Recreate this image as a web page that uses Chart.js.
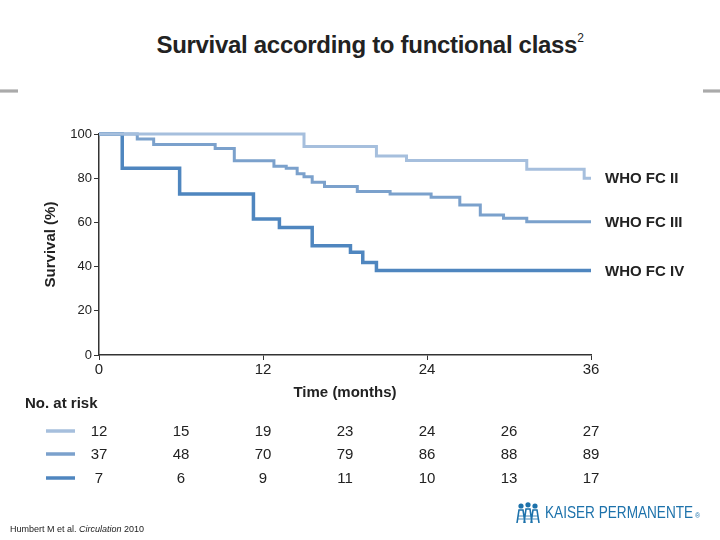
<!DOCTYPE html>
<html>
<head>
<meta charset="utf-8">
<script src="https://cdn.jsdelivr.net/npm/chart.js@4.4.1/dist/chart.umd.min.js"></script>
<style>
  body { margin: 0; background: #fff; font-family: "Liberation Sans", Arial, sans-serif; }
  #page { position: relative; width: 720px; height: 540px; overflow: hidden; }
  #wrap { position: absolute; left: 0; top: 0; width: 720px; height: 540px; }
  #titulo { position: absolute; top: 31px; left: 0; width: 740px; text-align: center; white-space: nowrap;
    font-weight: bold; font-size: 24px; color: #222; letter-spacing: -0.3px; }
  #titulo sup { font-size: 12px; font-weight: normal; vertical-align: 11px; }
  .barra { position: absolute; top: 89px; height: 4px; background: linear-gradient(#ddd, #999, #ddd); }
  #cita { position: absolute; left: 10px; top: 524px; font-size: 9px; color: #222; white-space: nowrap; }
  #logo { position: absolute; left: 516px; top: 502px; color: #1d72ab; font-size: 17px; white-space: nowrap;
    display: flex; align-items: center; }
  #logo svg { margin-right: 5px; flex: none; }
  #logo span { display: inline-block; transform: scaleX(0.8); transform-origin: left center; }
  #logo small { position: absolute; left: 179px; top: 10px; font-size: 7px; }
</style>
</head>
<body>
<div id="page">
  <div id="titulo">Survival according to functional class<sup>2</sup></div>
  <div class="barra" style="left:0;width:18px"></div>
  <div class="barra" style="left:703px;width:17px"></div>
  <div id="wrap"><canvas id="grafica"></canvas></div>
  <div id="cita">Humbert M et al. <i>Circulation</i> 2010</div>
  <div id="logo">
    <svg width="24" height="22" viewBox="0 0 24 22">
      <circle cx="5" cy="4" r="2.6" fill="#1d72ab"/>
      <circle cx="12" cy="2.8" r="2.6" fill="#1d72ab"/>
      <circle cx="19" cy="4" r="2.6" fill="#1d72ab"/>
      <path d="M1 21 L3 8 L7 8 L9 21 M8 21 L10 7 L14 7 L16 21 M15 21 L17 8 L21 8 L23 21" stroke="#1d72ab" stroke-width="1.6" fill="none"/>
      <path d="M2 14 L22 14 M2 17 L22 17" stroke="#1d72ab" stroke-width="0.8"/>
    </svg>
    <span>KAISER PERMANENTE</span><small>®</small>
  </div>
</div>

<script>
// Curvas de supervivencia (meses, % supervivencia)
const tiemposFC2 = [0, 15, 20.3, 22.5, 31.3, 35.5, 36];
const valoresFC2 = [100, 94.3, 90, 88, 84, 80, 80];

const tiemposFC3 = [0, 2.8, 4.0, 8.5, 9.9, 12.8, 13.7, 14.5, 15.0, 15.6, 16.5, 18.9, 21.3, 24.3, 26.4, 27.9, 29.6, 31.3, 36];
const valoresFC3 = [100, 97.7, 95.3, 93.4, 87.9, 85.4, 84.5, 82, 80.7, 78.2, 76.2, 74, 72.8, 71.4, 67.9, 63.3, 61.9, 60.3, 60.3];

const tiemposFC4 = [0, 1.7, 5.9, 11.3, 13.2, 15.6, 18.4, 19.3, 20.3, 36];
const valoresFC4 = [100, 84.5, 72.9, 61.5, 57.7, 49.4, 46.5, 41.8, 38.2, 38.2];

const etiquetas = ["WHO FC II", "WHO FC III", "WHO FC IV"];
const colores = ["#a6bfdd", "#7ba1cc", "#4f86bf"];
const grosores = [3, 3, 3.5];

// Tabla de pacientes en riesgo
const mesesRiesgo = [0, 6, 12, 18, 24, 30, 36];
const riesgoFC2 = [12, 15, 19, 23, 24, 26, 27];
const riesgoFC3 = [37, 48, 70, 79, 86, 88, 89];
const riesgoFC4 = [7, 6, 9, 11, 10, 13, 17];

const ticksX = [0, 12, 24, 36];

function puntos(t, v) {
  return t.map((x, i) => ({ x, y: v[i] }));
}

// Etiquetas al final de cada curva + tabla de riesgo
const pluginExtras = {
  id: "extras",
  afterDraw(chart) {
    const ctx = chart.ctx;
    const xs = chart.scales.x;
    ctx.save();
    ctx.fillStyle = "#222";
    ctx.font = "bold 15px 'Liberation Sans', Arial, sans-serif";
    ctx.textBaseline = "middle";
    chart.data.datasets.forEach((ds, i) => {
      const meta = chart.getDatasetMeta(i);
      const ultimo = meta.data[meta.data.length - 1];
      ctx.fillText(etiquetas[i], ultimo.x + 14, ultimo.y + 1);
    });

    ctx.fillText("No. at risk", 25, 404);
    const filas = [riesgoFC2, riesgoFC3, riesgoFC4];
    const filasY = [431, 454, 478];
    ctx.font = "15px 'Liberation Sans', Arial, sans-serif";
    filas.forEach((fila, i) => {
      ctx.strokeStyle = colores[i];
      ctx.lineWidth = 3.5;
      ctx.beginPath();
      ctx.moveTo(46, filasY[i]);
      ctx.lineTo(75, filasY[i]);
      ctx.stroke();
      ctx.textAlign = "center";
      fila.forEach((n, j) => {
        ctx.fillText(String(n), xs.getPixelForValue(mesesRiesgo[j]), filasY[i] + 1);
      });
    });
    ctx.restore();
  },
};

const ctx = document.getElementById("grafica").getContext("2d");

new Chart(ctx, {
  type: "line",
  data: {
    datasets: [
      { label: etiquetas[0], data: puntos(tiemposFC2, valoresFC2) },
      { label: etiquetas[1], data: puntos(tiemposFC3, valoresFC3) },
      { label: etiquetas[2], data: puntos(tiemposFC4, valoresFC4) },
    ].map((ds, i) => ({
      ...ds,
      borderColor: colores[i],
      borderWidth: grosores[i],
      stepped: true,
      pointRadius: 0,
      fill: false,
      clip: false,
      borderCapStyle: "butt",
      borderJoinStyle: "miter",
    })),
  },
  options: {
    responsive: true,
    maintainAspectRatio: false,
    animation: false,
    layout: { padding: { left: 42, right: 129, top: 134, bottom: 138 } },
    plugins: { legend: { display: false }, tooltip: { enabled: false } },
    scales: {
      x: {
        type: "linear",
        min: 0,
        max: 36,
        afterFit(scale) { scale.height = 47; },
        afterBuildTicks(scale) { scale.ticks = ticksX.map((v) => ({ value: v })); },
        border: { color: "#333", width: 1.5 },
        grid: { drawOnChartArea: false, drawTicks: true, tickLength: 5, color: "#333" },
        ticks: { color: "#222", font: { size: 15, family: "'Liberation Sans', Arial, sans-serif" }, padding: 1, maxRotation: 0 },
        title: { display: true, text: "Time (months)", color: "#222", padding: { top: 4, bottom: 0 },
          font: { size: 15, weight: "bold", family: "'Liberation Sans', Arial, sans-serif" } },
      },
      y: {
        min: 0,
        max: 100,
        afterFit(scale) { scale.width = 57; },
        border: { color: "#333", width: 1.5 },
        grid: { drawOnChartArea: false, drawTicks: true, tickLength: 5, color: "#333" },
        ticks: { stepSize: 20, color: "#222", font: { size: 13, family: "'Liberation Sans', Arial, sans-serif" }, padding: 2 },
        title: { display: true, text: "Survival (%)", color: "#222", padding: { top: 0, bottom: 8 },
          font: { size: 15, weight: "bold", family: "'Liberation Sans', Arial, sans-serif" } },
      },
    },
  },
  plugins: [pluginExtras],
});
</script>
</body>
</html>
